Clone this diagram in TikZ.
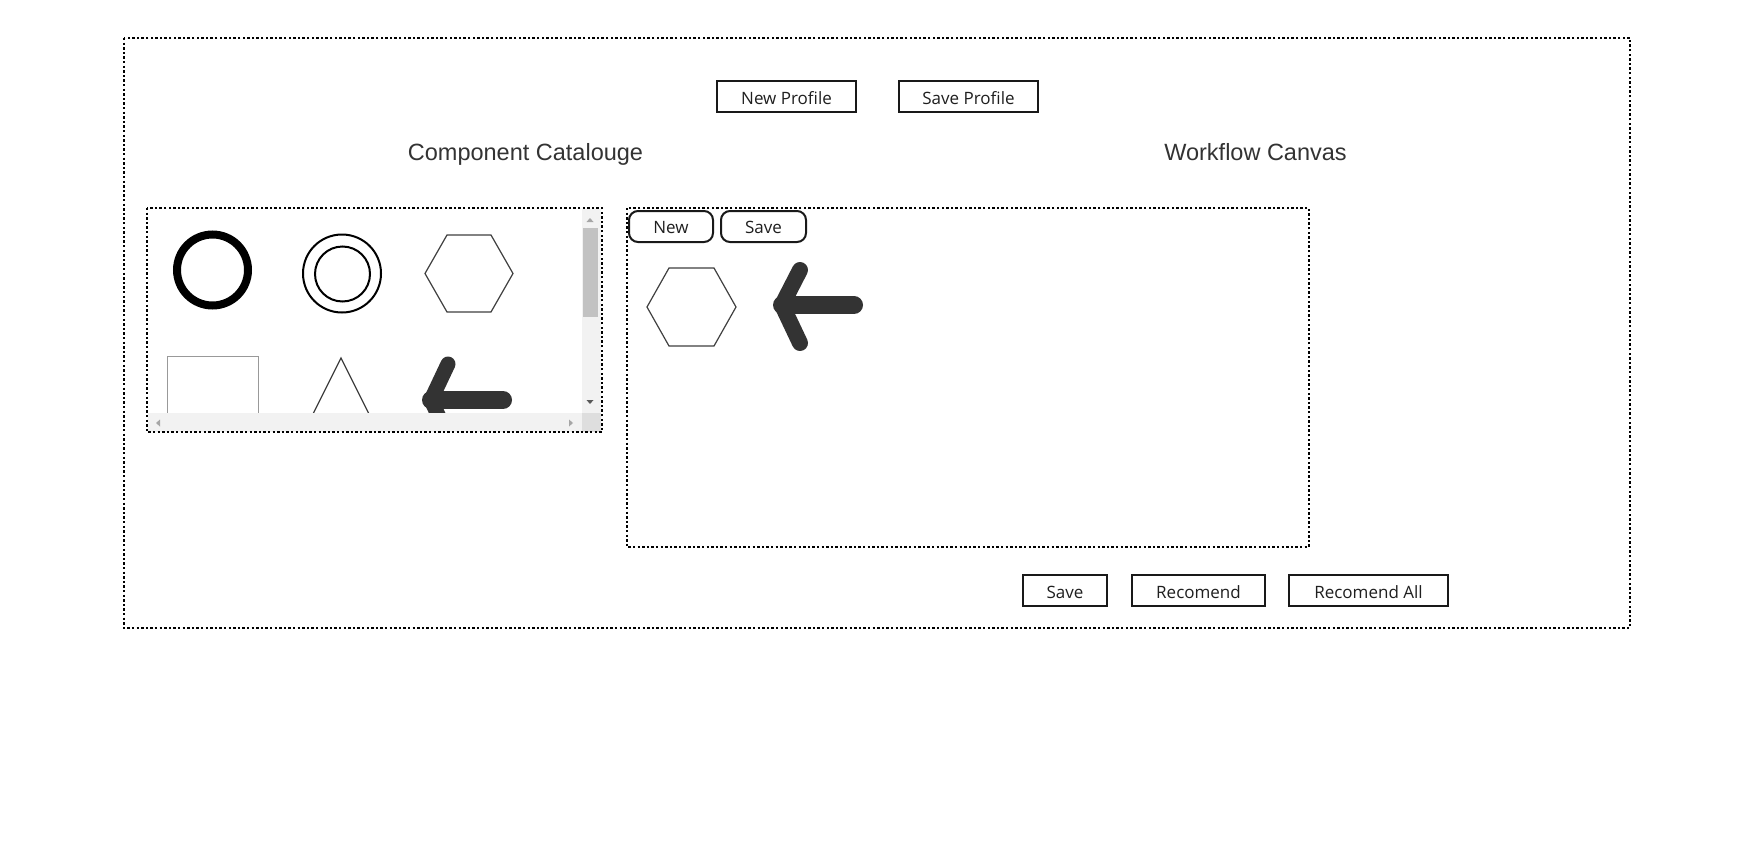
\documentclass[tikz,border=0pt]{standalone}
\usepackage{fontspec}
\setmainfont{Open Sans}
\newfontfamily\headfont{Liberation Sans}
\begin{document}
\begin{tikzpicture}[x=1pt,y=-1pt,
  dotbox/.style={draw=black,line width=2.4pt,dash pattern=on 2.4pt off 2.2pt},
  btn/.style={draw=black!90,line width=2pt,fill=white},
  btntext/.style={anchor=base,inner sep=0pt,text=black!88,font=\fontsize{17}{20}\selectfont},
  head/.style={anchor=base,inner sep=0pt,text=black!80,font=\headfont\fontsize{23.5}{28}\selectfont},
  thinshape/.style={draw=black!75,line width=1.2pt},
  arrowstroke/.style={draw=black!80,line cap=round,line join=round}]
\useasboundingbox (0,0) rectangle (1755,851);
\fill[white] (0,0) rectangle (1755,851);
% outer frame
\draw[dotbox] (124,38) rectangle (1630,628);
% top buttons
\draw[btn] (717,81) rectangle (856,112);
\node[btntext] (newprofile) at (786.5,104) {New Profile};
\draw[btn] (899,81) rectangle (1038,112);
\node[btntext] (saveprofile) at (968.5,104) {Save Profile};
% headings
\node[head] (cataloguehead) at (525.5,160) {Component Catalouge};
\node[head] (canvashead) at (1255.5,160) {Workflow Canvas};
% catalogue content (clipped)
\begin{scope}
  \clip (148,209) rectangle (582,413);
  \draw[black,line width=8pt] (212.5,270) circle (35.5);
  \draw[black,line width=2pt] (342,273.5) circle (39);
  \draw[black,line width=2pt] (342.5,274) circle (27.5);
  \draw[thinshape] (425,273.5) -- (447,235) -- (491,235) -- (513,273.5) -- (491,312) -- (447,312) -- cycle;
  \draw[draw=black!40,line width=1pt] (167.5,440) -- (167.5,356) -- (258.5,356) -- (258.5,440);
  \draw[thinshape] (312,416) -- (341,358) -- (370,416);
  \draw[arrowstroke,line width=15pt] (448,364) -- (431,400) -- (448,436);
  \draw[arrowstroke,line width=18pt] (431,400) -- (503,400);
\end{scope}
% scrollbars
\fill[black!5] (582,209) rectangle (601,413);
\fill[black!24] (583,228) rectangle (598,317);
\fill[black!35] (586.5,222) -- (593.5,222) -- (590,218) -- cycle;
\fill[black!65] (586.5,400) -- (593.5,400) -- (590,404) -- cycle;
\fill[black!5] (148,413) rectangle (582,432);
\fill[black!13] (582,413) rectangle (601,432);
\fill[black!35] (160,419.5) -- (160,426.5) -- (156,423) -- cycle;
\fill[black!35] (569,419.5) -- (569,426.5) -- (573,423) -- cycle;
\draw[dotbox] (147,208) rectangle (602,432);
% workflow canvas
\draw[dotbox] (627,208) rectangle (1309,547);
\draw[btn,rounded corners=9pt] (629,211) rectangle (713,242);
\node[btntext] (canvasnew) at (671,233) {New};
\draw[btn,rounded corners=9pt] (721,211) rectangle (806,242);
\node[btntext] (canvassave) at (763.5,233) {Save};
\draw[thinshape] (647,307) -- (669,268) -- (714,268) -- (736,307) -- (714,346) -- (669,346) -- cycle;
\draw[arrowstroke,line width=16pt] (800,270) -- (782,305) -- (800,343);
\draw[arrowstroke,line width=18pt] (782,305) -- (854,305);
% bottom buttons
\draw[btn] (1023,575) rectangle (1107,606);
\node[btntext] (savebtn) at (1065,598) {Save};
\draw[btn] (1132,575) rectangle (1265,606);
\node[btntext] (recomend) at (1198.5,598) {Recomend};
\draw[btn] (1289,575) rectangle (1448,606);
\node[btntext] (recomendall) at (1368.5,598) {Recomend All};
\end{tikzpicture}
\end{document}
